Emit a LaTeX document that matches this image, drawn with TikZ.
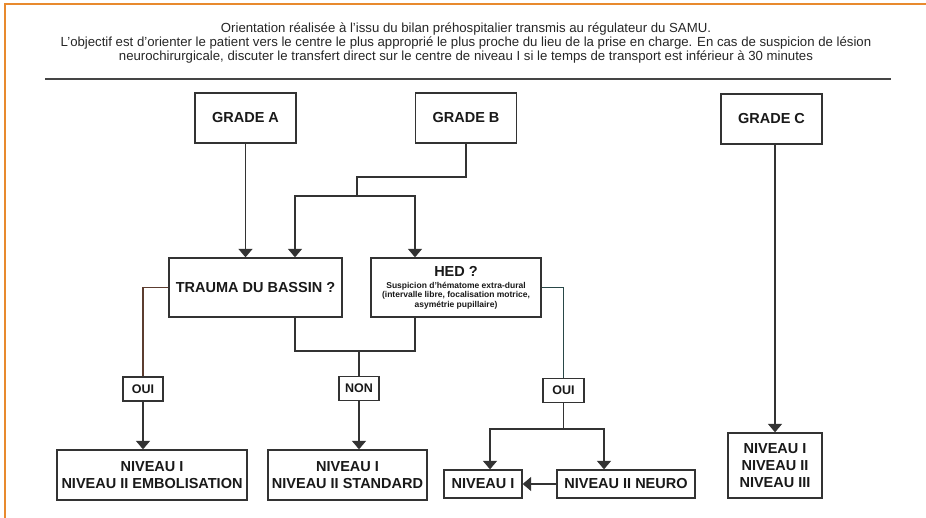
\documentclass[tikz,border=0pt]{standalone}
\usepackage{fontspec}
\setmainfont{Liberation Sans}
\usetikzlibrary{positioning,arrows.meta}
\definecolor{BoxGray}{rgb}{.2,.2,.2}
\definecolor{RuleGray}{rgb}{.27,.27,.27}
\definecolor{FrameOrange}{rgb}{.91,.54,.18}
\definecolor{LinkBrown}{rgb}{.36,.24,.19}
\definecolor{LinkTeal}{rgb}{.16,.28,.28}
\newcommand{\hedsmall}{\fontsize{8.5}{9.6}\selectfont}
\newcommand{\hedbig}{\fontsize{14.5}{16}\selectfont}

\begin{document}
\begin{tikzpicture}[x=1pt, y=-1pt,
		every node/.style={draw=BoxGray, line width=1.3pt, fill=white, inner sep=0pt, align=center,
			font=\fontsize{14.5}{17}\selectfont\bfseries, text=black!90},
		link/.style={draw=BoxGray, line width=1.3pt},
		>={Triangle[width=14pt,length=8.5pt]}
		]
		\useasboundingbox (0,0) rectangle (926,518);
		\draw[FrameOrange, line width=1.2pt] (5,518) -- (5,4) -- (926,4);

		\node[draw=none, fill=none, font=\fontsize{13.2}{14}\selectfont, text=black!85] (head) at (466,43.5)
			{Orientation réalisée à l'issu du bilan préhospitalier transmis au régulateur du SAMU.\\
			L'objectif est d'orienter le patient vers le centre le plus approprié le plus proche du lieu de la prise en charge. En cas de suspicion de lésion\\
			neurochirurgicale, discuter le transfert direct sur le centre de niveau I si le temps de transport est inférieur à 30 minutes};
		\draw[RuleGray, line width=2.2pt] (45,79) -- (891,79);

		\node[minimum width=101pt, minimum height=50pt] (gradeA) at (245.5,118) {GRADE A};
		\node[minimum width=101pt, minimum height=50pt] (gradeB) at (466,118) {GRADE B};
		\node[minimum width=101pt, minimum height=50pt] (gradeC) at (771.5,119) {GRADE C};

		\node[minimum width=173pt, minimum height=59pt, font=\hedbig\bfseries] (trauma) at (255.5,287.5) {TRAUMA DU BASSIN ?};
		\node[minimum width=170pt, minimum height=59pt, font=\hedsmall\bfseries] (hed) at (456,287.5)
			{{\hedbig HED ?}\\[2.5pt]
			Suspicion d'hématome extra-dural\\
			(intervalle libre, focalisation motrice,\\
			asymétrie pupillaire)};

		\node[minimum width=40pt, minimum height=24pt, font=\fontsize{12.5}{14}\selectfont\bfseries] (ouiA) at (143,389) {OUI};
		\node[minimum width=40pt, minimum height=24pt, font=\fontsize{12.5}{14}\selectfont\bfseries] (non) at (359,388.5) {NON};
		\node[minimum width=41pt, minimum height=24pt, font=\fontsize{12.5}{14}\selectfont\bfseries] (ouiB) at (563.5,390.5) {OUI};

		\node[minimum width=190pt, minimum height=50pt] (nivEmb) at (152,475) {NIVEAU I\\NIVEAU II EMBOLISATION};
		\node[minimum width=159pt, minimum height=50pt] (nivStd) at (347.5,475) {NIVEAU I\\NIVEAU II STANDARD};
		\node[minimum width=78pt, minimum height=28pt] (niv1) at (483,484) {NIVEAU I};
		\node[minimum width=138pt, minimum height=28pt] (neuro) at (626,484) {NIVEAU II NEURO};
		\node[minimum width=94pt, minimum height=65pt] (niv123) at (775,465.5) {NIVEAU I\\NIVEAU II\\NIVEAU III};

		\coordinate (bknee) at (357,177);
		\coordinate (bsplit) at (357,196);
		\coordinate (bleft) at (295,196);
		\coordinate (bright) at (415,196);
		\coordinate (merge) at (359,351);
		\coordinate (osplit) at (563.5,429);
		\coordinate (oleft) at (490,429);
		\coordinate (oright) at (604,429);

		\draw[link, ->] (gradeA) -- (gradeA |- trauma.north);
		\draw[link] (gradeB.south) |- (bknee) -- (bsplit);
		\draw[link, ->] (bsplit) -- (bleft) -- (bleft |- trauma.north);
		\draw[link, ->] (bsplit) -- (bright) -- (bright |- hed.north);
		\draw[link, ->] (gradeC.south -| niv123) -- (niv123);

		\draw[link] (bleft |- trauma.south) -- (bleft |- merge) -- (bright |- merge) -- (bright |- hed.south);
		\draw[link] (merge) -- (non);
		\draw[link, draw=LinkBrown] (trauma.west) -| (ouiA.north);
		\draw[link, draw=LinkTeal] (hed.east) -| (ouiB.north);

		\draw[link, ->] (ouiA) -- (ouiA |- nivEmb.north);
		\draw[link, ->] (non) -- (non |- nivStd.north);
		\draw[link] (ouiB) -- (osplit);
		\draw[link, ->] (osplit) -- (oleft) -- (oleft |- niv1.north);
		\draw[link, ->] (osplit) -- (oright) -- (oright |- neuro.north);
		\draw[link, ->] (neuro) -- (niv1);
	\end{tikzpicture}
\end{document}
